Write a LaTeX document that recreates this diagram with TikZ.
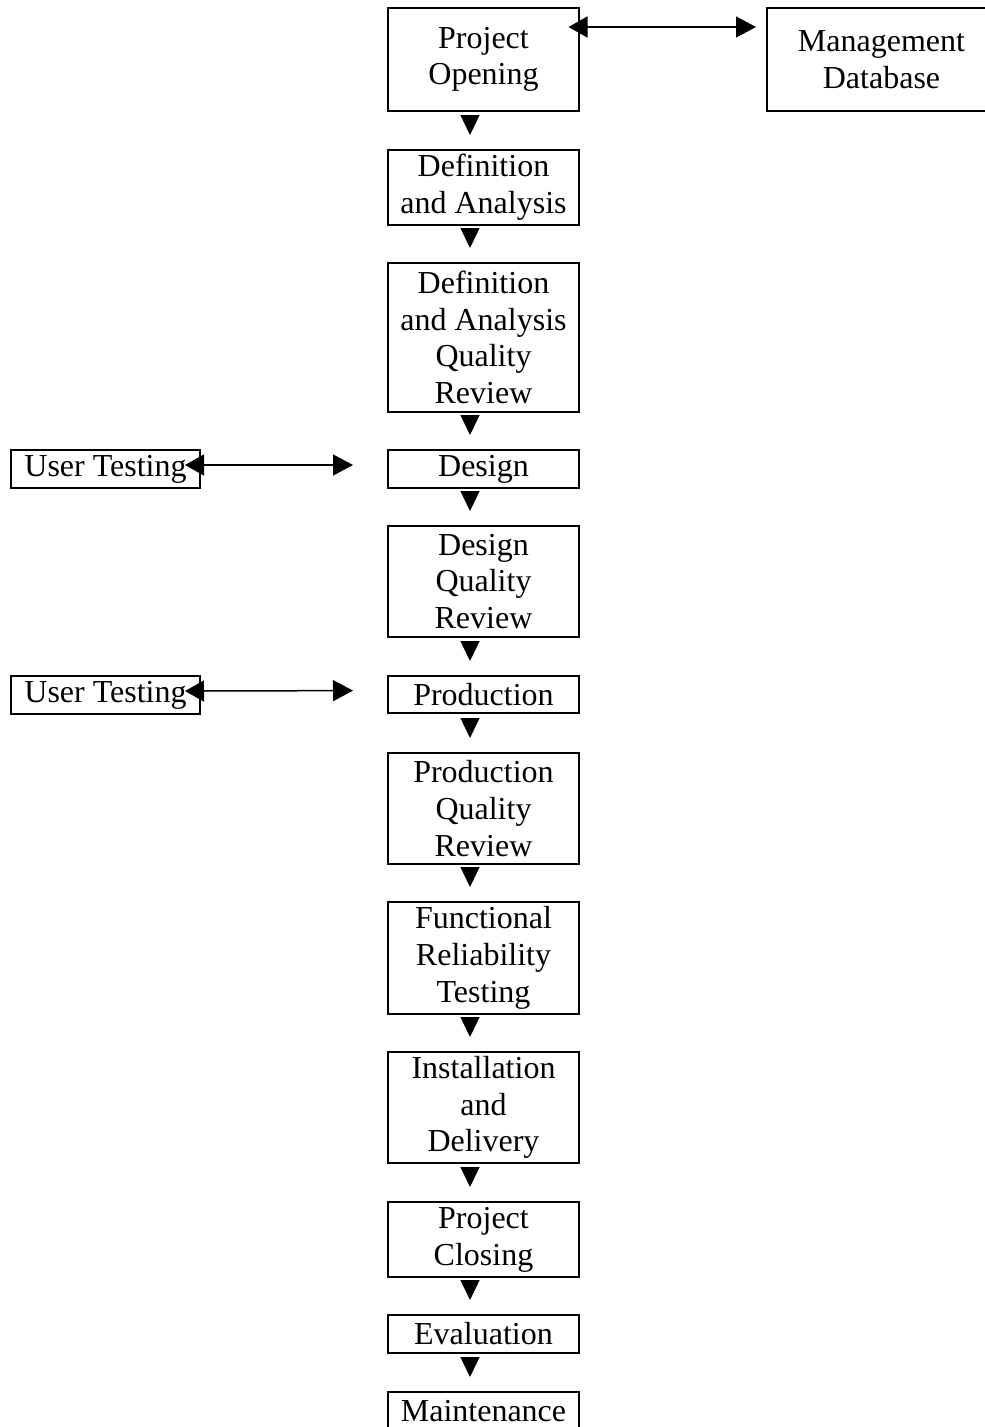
\documentclass[tikz,border=0pt]{standalone}
\usepackage{fontspec}
\setmainfont{Liberation Serif}
\usetikzlibrary{arrows.meta}
\tikzset{
  stage/.style={draw=black, line width=2pt, rectangle, inner sep=0pt, align=center,
    font=\fontsize{32}{36.7}\selectfont, text=black},
  downarrow/.style={line width=1.3pt, -{Triangle[length=20pt,width=19pt]},
    shorten <=5pt, shorten >=14pt},
  twoway/.style={line width=1.5pt, {Triangle[length=19pt,width=21pt]}-{Triangle[length=20pt,width=21pt]}}
}
\begin{document}
\begin{tikzpicture}[x=1pt,y=-1pt]
\useasboundingbox (0,0) rectangle (985,1427);
% main column
\node[stage, minimum width=191pt, minimum height=103pt] (po) at (483.5,59.5) {Project\\Opening};
\node[stage, minimum width=191pt, minimum height=75pt] (da) at (483.5,187.5) {Definition\\and Analysis};
\node[stage, minimum width=191pt, minimum height=149pt] (daqr) at (483.5,337.5) {Definition\\and Analysis\\Quality\\Review};
\node[stage, minimum width=191pt, minimum height=38pt] (design) at (483.5,469) {Design};
\node[stage, minimum width=191pt, minimum height=111pt] (dqr) at (483.5,581.5) {Design\\Quality\\Review};
\node[stage, minimum width=191pt, minimum height=37pt] (prod) at (483.5,694.5) {Production};
\node[stage, minimum width=191pt, minimum height=111pt] (pqr) at (483.5,808.5) {Production\\Quality\\Review};
\node[stage, minimum width=191pt, minimum height=112pt] (frt) at (483.5,958) {Functional\\Reliability\\Testing};
\node[stage, minimum width=191pt, minimum height=111pt] (inst) at (483.5,1107.5) {Installation\\and\\Delivery};
\node[stage, minimum width=191pt, minimum height=75pt] (pc) at (483.5,1239.5) {Project\\Closing};
\node[stage, minimum width=191pt, minimum height=38pt] (eval) at (483.5,1334) {Evaluation};
\node[stage, minimum width=191pt, minimum height=38pt] (maint) at (483.5,1411) {Maintenance};
% side boxes
\node[stage, minimum width=229pt, minimum height=103pt] (md) at (881.5,59.5) {Management\\Database};
\node[stage, minimum width=189pt, minimum height=38pt] (ut1) at (105.5,469) {User Testing};
\node[stage, minimum width=189pt, minimum height=38pt] (ut2) at (105.5,695) {User Testing};
% down arrows
\foreach \a/\b in {po/da, da/daqr, daqr/design, design/dqr, dqr/prod, prod/pqr, pqr/frt, frt/inst, inst/pc, pc/eval, eval/maint}
  \draw[downarrow] ([xshift=-13.5pt]\a.south) -- ([xshift=-13.5pt]\b.north);
% two-way arrows
\draw[twoway, shorten <=-11.5pt, shorten >=10pt] ([yshift=32.5pt]po.east) -- ([yshift=32.5pt]md.west);
\draw[twoway, shorten <=-16pt, shorten >=34pt] ([yshift=4pt]ut1.east) -- ([yshift=4pt]design.west);
\draw[twoway, shorten <=-16pt, shorten >=34pt] ([yshift=4pt]ut2.east) -- ([yshift=4pt]prod.west);
\end{tikzpicture}
\end{document}
